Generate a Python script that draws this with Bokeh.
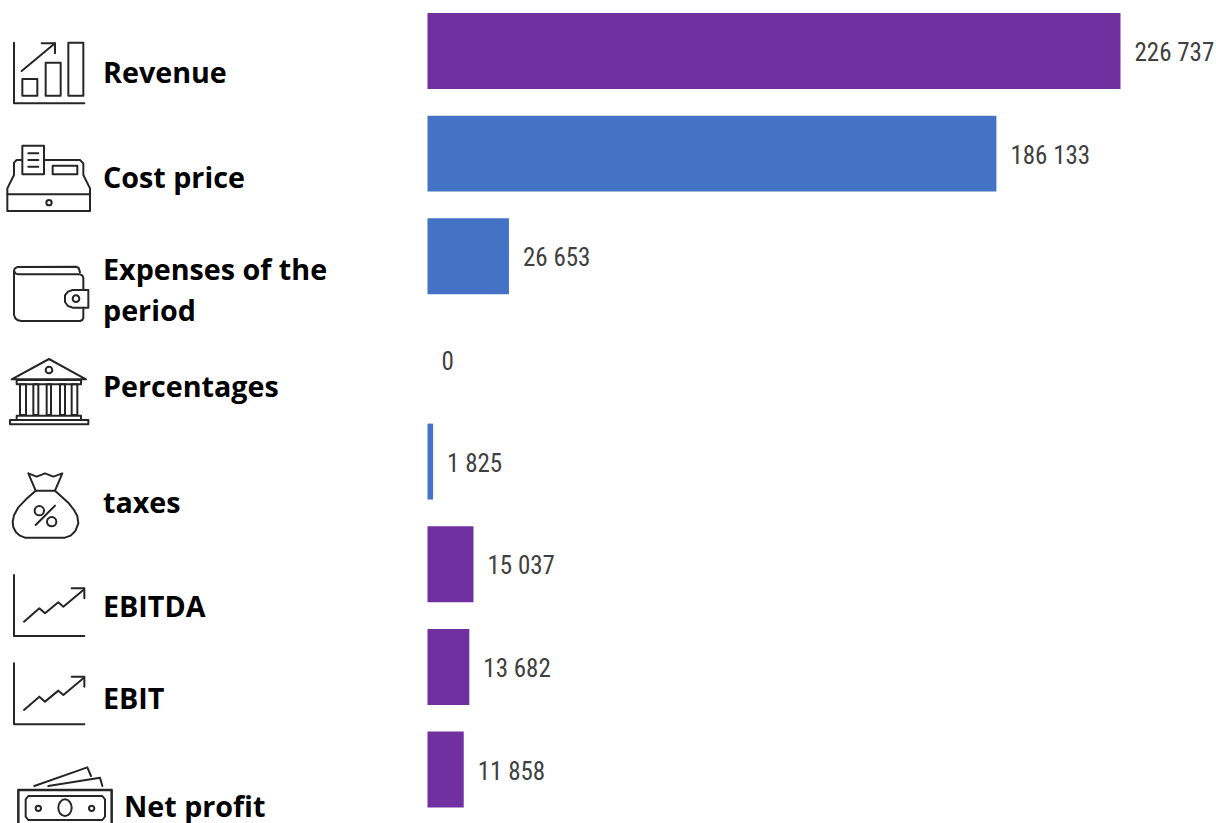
from bokeh.core.properties import value
from bokeh.embed import file_html
from bokeh.models import ColumnDataSource, Range1d
from bokeh.plotting import figure
from bokeh.resources import INLINE

# Financial summary values
values = [226737, 186133, 26653, 0, 1825, 15037, 13682, 11858]
value_labels = ["226 737", "186 133", "26 653", "0", "1 825", "15 037", "13 682", "11 858"]
PURPLE = "#7030A0"
BLUE = "#4472C4"
bar_colors = [PURPLE, BLUE, BLUE, BLUE, BLUE, PURPLE, PURPLE, PURPLE]
rows = list(range(len(values)))

# Row captions: text, left edge and vertical centre in page pixels
caption_texts = ["Revenue", "Cost price", "Expenses of the", "period", "Percentages",
                 "taxes", "EBITDA", "EBIT", "Net profit"]
caption_x = [103, 103, 103, 103, 103, 103, 103, 103, 124]
caption_y = [71.5, 176.5, 268.5, 309.5, 385.5, 501.5, 605.5, 697.5, 805]

INK = "#262626"

p = figure(width=1216, height=823, output_backend="svg", toolbar_location=None,
           x_range=Range1d(-139706, 258147), y_range=Range1d(7.5256, -0.4919),
           x_axis_location=None, y_axis_location=None, min_border=0,
           background_fill_color="white", border_fill_color="white", outline_line_color=None)
p.grid.visible = False

# Second coordinate system in page pixels for the pictograms and captions
p.extra_x_ranges["px"] = Range1d(0.5, 1216.5)
p.extra_y_ranges["px"] = Range1d(823.5, 0.5)

bars = ColumnDataSource(dict(y=rows, v=values, color=bar_colors, label=value_labels))
p.hbar(y="y", left=0, right="v", height=0.74, fill_color="color", line_color=None, source=bars)
p.text(x="v", y="y", text="label", source=bars, x_offset=14, y_offset=1.5, text_align="left",
       text_baseline="middle", text_color="#404040", text_font_size="25px",
       text_font=value("Roboto Condensed, Roboto, sans-serif"))

p.text(x=caption_x, y=caption_y, text=caption_texts, x_range_name="px", y_range_name="px",
       text_align="left", text_baseline="middle", text_color="#000000",
       text_font=value("Open Sans"), text_font_style="bold", text_font_size="28.7px")


def path(ox, oy, pts, closed=False, width=2):
    """Stroke a polyline authored on a 3x grid, placed at page offset (ox, oy)."""
    xs = [ox + a / 3 for a, _ in pts]
    ys = [oy + b / 3 for _, b in pts]
    if closed:
        xs.append(xs[0])
        ys.append(ys[0])
    p.line(xs, ys, x_range_name="px", y_range_name="px", line_color=INK,
           line_width=width, line_join="round", line_cap="round")


def box(ox, oy, x0, y0, x1, y1, width=2):
    path(ox, oy, [(x0, y0), (x1, y0), (x1, y1), (x0, y1)], closed=True, width=width)


def ring(ox, oy, cx, cy, rx, ry=None, width=2):
    ry = rx if ry is None else ry
    p.ellipse(ox + cx / 3, oy + cy / 3, width=2 * rx / 3, height=2 * ry / 3,
              x_range_name="px", y_range_name="px", fill_color=None,
              line_color=INK, line_width=width)


# Revenue: bars with a rising arrow
O = (0, 20)
path(*O, [(42, 68), (42, 250), (253, 250)])
box(*O, 67, 177, 112, 227)
box(*O, 137, 128, 182, 227)
box(*O, 205, 68, 250, 227)
path(*O, [(65, 153), (165, 70)])
path(*O, [(125, 70), (165, 70), (165, 100)])

# Cost price: cash register
box(*O, 22, 523, 270, 573)
path(*O, [(22, 523), (22, 505), (42, 465), (42, 428), (50, 420), (66, 420)])
path(*O, [(132, 420), (240, 420), (250, 430), (250, 465), (270, 505), (270, 523)])
box(*O, 67, 377, 132, 463)
box(*O, 158, 437, 232, 463)
for ly in (400, 420, 440):
    path(*O, [(85, ly), (115, ly)])
ring(*O, 147, 548, 8)

# Expenses: wallet
O = (0, 240)
path(*O, [(42, 93), (44, 86), (52, 81), (228, 80), (236, 84), (240, 97)])
path(*O, [(42, 93), (46, 100), (54, 103), (240, 103), (247, 106), (250, 114), (250, 150)])
path(*O, [(42, 93), (42, 225), (46, 235), (54, 241), (64, 243), (240, 243), (247, 240), (250, 233), (250, 203)])
path(*O, [(265, 150), (218, 150), (204, 155), (195, 166), (195, 186), (204, 198), (218, 203), (265, 203)], closed=True)
ring(*O, 228, 176, 10)

# Percentages: bank building
path(*O, [(35, 418), (147, 357), (258, 418)], closed=True)
ring(*O, 147, 390, 10)
box(*O, 50, 420, 243, 433)
for cx0, cx1 in ((60, 78), (100, 115), (140, 153), (180, 195), (215, 232)):
    box(*O, cx0, 433, cx1, 525)
box(*O, 50, 527, 243, 540)
box(*O, 30, 540, 265, 553)

# Taxes: money bag with a percent sign
O = (0, 450)
path(*O, [(85, 70), (107, 122), (165, 122), (187, 70), (160, 80), (135, 70), (110, 80)], closed=True)
path(*O, [(107, 122), (78, 148), (55, 172), (42, 196), (38, 215), (40, 232), (48, 247), (60, 257), (75, 263),
          (195, 263), (212, 257), (226, 243), (235, 220), (232, 198), (222, 180), (205, 158), (165, 122)])
path(*O, [(107, 225), (165, 167)])
ring(*O, 118, 182, 14)
ring(*O, 155, 215, 14)


def trend(ox, oy):
    """Axes with a zigzag rising line, used for EBITDA and EBIT."""
    path(ox, oy, [(42, 375), (42, 558), (253, 558)])
    path(ox, oy, [(72, 515), (118, 475), (135, 490), (175, 457), (190, 470), (250, 420)])
    path(ox, oy, [(215, 415), (253, 415), (253, 445)])


trend(0, 450)
trend(0, 538.3)

# Net profit: stack of banknotes, running off the bottom edge
O = (0, 650)
path(*O, [(55, 540), (55, 420), (335, 420), (335, 540)], width=2.5)
path(*O, [(85, 510), (77, 500), (77, 448), (85, 438), (307, 438), (315, 448), (315, 500), (307, 510)], closed=True)
ring(*O, 115, 475, 8)
ring(*O, 275, 475, 8)
ring(*O, 195, 473, 20, 25)
path(*O, [(103, 408), (262, 352), (273, 378)])
path(*O, [(145, 408), (300, 383), (307, 408)])

open("out.html", "w").write(file_html(p, INLINE))
